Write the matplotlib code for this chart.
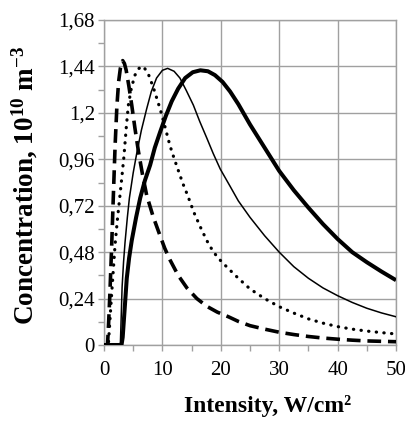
import matplotlib
matplotlib.use("Agg")
import matplotlib.pyplot as plt
from matplotlib.ticker import MultipleLocator

# curve 1: thick dashed
dash_x = [0, 0.6, 0.8, 1.0, 1.3, 1.6, 1.9, 2.2, 2.5, 2.8, 3.2, 3.5, 3.8, 4.25,
          4.75, 5.3, 5.9, 6.6, 7.3, 8.4, 9.6, 10.4, 11.3, 12.7, 14.2, 15.9, 17.6,
          19.4, 21.3, 23, 25, 27.5, 30, 32.5, 35, 37.5, 40, 42.5, 45, 47.5, 50]
dash_y = [0, 0, 0.12, 0.26, 0.50, 0.77, 1.03, 1.23, 1.36, 1.43, 1.47, 1.455, 1.42,
          1.34, 1.24, 1.12, 1.0, 0.88, 0.775, 0.665, 0.565, 0.50, 0.44, 0.36, 0.295,
          0.24, 0.20, 0.17, 0.146, 0.122, 0.10, 0.082, 0.066, 0.054, 0.044, 0.036,
          0.030, 0.025, 0.021, 0.019, 0.017]

# curve 2: dotted
dot_x = [0, 0.74, 1.0, 1.3, 1.6, 1.9, 2.3, 2.74, 3.1, 3.43, 3.8, 4.17, 4.7, 5.3,
         6.0, 6.75, 7.6, 8.46, 9.2, 9.9, 10.6, 11.3, 12.0, 12.75, 13.5, 14.3, 15.4,
         16.5, 17.6, 18.75, 20, 21.3, 23, 25, 27.5, 30, 32.5, 35, 37.5, 40, 42.5,
         45, 47.5, 50]
dot_y = [0, 0, 0.12, 0.26, 0.39, 0.52, 0.65, 0.775, 0.88, 0.98, 1.12, 1.24, 1.33,
         1.395, 1.43, 1.44, 1.40, 1.33, 1.26, 1.19, 1.11, 1.03, 0.965, 0.90, 0.835,
         0.775, 0.685, 0.61, 0.54, 0.48, 0.435, 0.395, 0.345, 0.29, 0.24, 0.198,
         0.165, 0.135, 0.113, 0.095, 0.082, 0.072, 0.064, 0.057]

# curve 3: thin solid
thin_x = [0, 2.8, 2.95, 3.1, 3.35, 3.6, 4.0, 4.35, 5.0, 5.6, 6.4, 7.3, 8.1, 9.0,
          10.0, 10.9, 12.0, 13.0, 14.1, 15.3, 16.4, 17.6, 18.7, 19.9, 21.6, 23, 25,
          27.5, 30, 32.5, 35, 37.5, 40, 42.5, 45, 47.5, 50]
thin_y = [0, 0, 0.15, 0.30, 0.43, 0.53, 0.66, 0.76, 0.89, 0.99, 1.11, 1.22, 1.31,
          1.38, 1.42, 1.43, 1.415, 1.38, 1.315, 1.24, 1.155, 1.07, 0.99, 0.91, 0.82,
          0.745, 0.66, 0.565, 0.48, 0.405, 0.345, 0.295, 0.255, 0.22, 0.19, 0.166,
          0.146]

# curve 4: thick solid
thick_x = [0, 3.0, 3.2, 3.5, 3.9, 4.3, 4.75, 5.5, 6.2, 7.0, 7.9, 8.7, 9.6, 10.6,
           11.6, 12.7, 13.9, 15.2, 16.5, 17.8, 19.0, 20.3, 21.6, 23, 25, 27.5, 30,
           32.5, 35, 37.5, 40, 42.5, 45, 47.5, 50]
thick_y = [0, 0, 0.04, 0.17, 0.345, 0.45, 0.54, 0.66, 0.76, 0.85, 0.93, 1.02, 1.10,
           1.185, 1.26, 1.325, 1.38, 1.41, 1.42, 1.415, 1.395, 1.36, 1.31, 1.245,
           1.14, 1.02, 0.90, 0.80, 0.71, 0.625, 0.548, 0.48, 0.428, 0.38, 0.335]

y_ticks = [0, 0.24, 0.48, 0.72, 0.96, 1.2, 1.44, 1.68]
y_labels = ["0", "0,24", "0,48", "0,72", "0,96", "1,2", "1,44", "1,68"]
x_ticks = [0, 10, 20, 30, 40, 50]

plt.rcParams["font.family"] = ["Liberation Serif", "DejaVu Serif"]
plt.rcParams["mathtext.fontset"] = "custom"
plt.rcParams["mathtext.rm"] = "Liberation Serif"
plt.rcParams["mathtext.bf"] = "Liberation Serif:bold"
plt.rcParams["mathtext.default"] = "bf"

fig = plt.figure(figsize=(4.06, 4.24), dpi=100)
ax = fig.add_axes([104 / 406, 1 - 345 / 424, 292 / 406, 325 / 424])

grey = "#a0a0a0"
ax.plot(thick_x, thick_y, color="black", lw=2.9, solid_capstyle="butt",
        solid_joinstyle="round", zorder=3)
ax.plot(thin_x, thin_y, color="black", lw=1.1, solid_joinstyle="round", zorder=3)
ax.plot(dot_x, dot_y, color="black", lw=2.3, linestyle=(0, (0.1, 2.3)),
        dash_capstyle="round", zorder=3)
ax.plot(dash_x, dash_y, color="black", lw=2.6, linestyle=(0, (3.8, 1.9)),
        zorder=3)

ax.set_xlim(0, 50)
ax.set_ylim(0, 1.68)
ax.set_xticks(x_ticks)
ax.set_xticklabels([str(v) for v in x_ticks])
ax.set_yticks(y_ticks)
ax.set_yticklabels(y_labels)
ax.xaxis.set_minor_locator(MultipleLocator(5))
ax.yaxis.set_minor_locator(MultipleLocator(0.12))

ax.grid(True, which="major", color=grey, lw=1.0)
ax.set_axisbelow(True)
for spine in ["bottom", "top", "left", "right"]:
    ax.spines[spine].set_color(grey)
    ax.spines[spine].set_linewidth(1.0)
ax.tick_params(which="both", direction="out", color=grey, length=4.5, width=1.0,
               labelsize=15, labelcolor="black")
ax.tick_params(axis="x", pad=7)
ax.tick_params(axis="y", pad=2)

ax.set_xlabel("Intensity, W/cm²", fontsize=17, fontweight="bold")
ax.xaxis.set_label_coords(0.56, -0.155)
ax.set_ylabel(r"Concentration, 10$^{10}$ m$^{-3}$", fontsize=19.5, fontweight="bold",
              va="center")
ax.yaxis.set_label_coords(-0.27, 0.49)

fig.savefig("out.png", dpi=100)
